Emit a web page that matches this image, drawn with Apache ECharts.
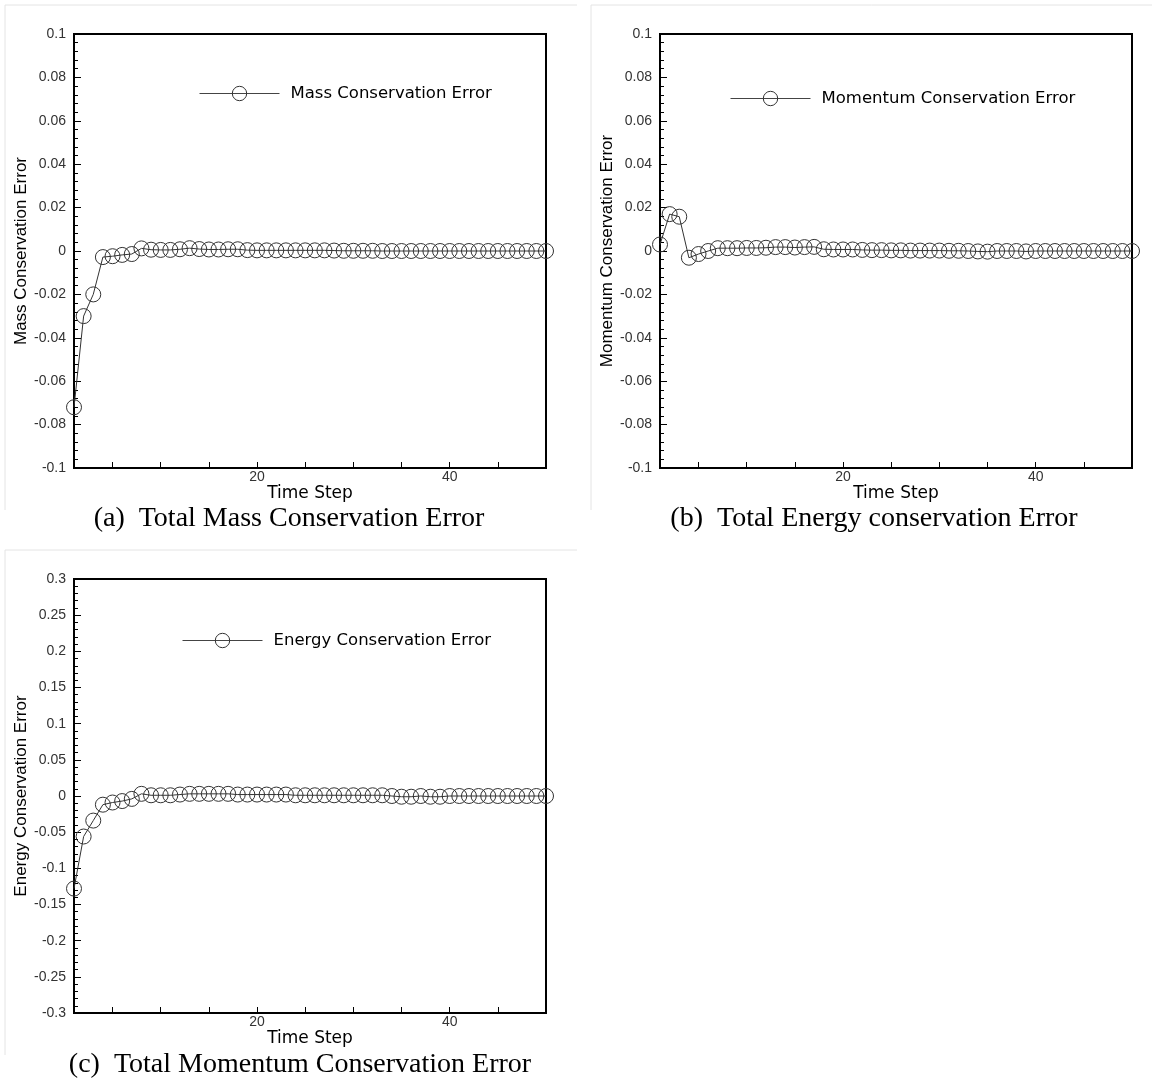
<!DOCTYPE html>
<html>
<head>
<meta charset="utf-8">
<script src="https://cdn.jsdelivr.net/npm/echarts@6/dist/echarts.min.js"></script>
<style>
html,body{margin:0;padding:0;background:#fff;}
#chart{width:1154px;height:1082px;}
</style>
</head>
<body>
<div id="chart"></div>
<script>
// ---- data ----
const timeSteps = Array.from({length: 50}, (_, i) => i + 1);
const massError = [-0.072, -0.030, -0.020, -0.0028, -0.0024, -0.0018, -0.0014, 0.0012, 0.0006, 0.0005,
  0.0005, 0.0008, 0.0013, 0.0009, 0.0007, 0.0007, 0.0008, 0.0008, 0.0004, 0.0003,
  0.0003, 0.0003, 0.0003, 0.0003, 0.0003, 0.0003, 0.0003, 0.0002, 0.0001, 0.0001,
  0.0001, 0.0001, 0, 0, 0, 0, 0, 0, 0, 0,
  0, 0, 0, 0, 0, 0, 0, 0, 0, 0];
const momentumError = [0.003, 0.017, 0.0158, -0.0031, -0.0014, 0, 0.0013, 0.0013, 0.0013, 0.0014,
  0.0014, 0.0015, 0.0018, 0.0018, 0.0016, 0.0018, 0.0019, 0.0008, 0.0007, 0.0007,
  0.0007, 0.0005, 0.0004, 0.0004, 0.0003, 0.0003, 0.0002, 0.0002, 0.0002, 0.0002,
  0.0001, 0.0001, 0, -0.0002, -0.0003, 0, 0, 0, -0.0002, 0,
  0, 0, 0, 0, 0, 0, 0, 0, 0, 0];
const energyError = [-0.128, -0.056, -0.034, -0.012, -0.009, -0.007, -0.004, 0.003, 0.001, 0.001,
  0.001, 0.002, 0.003, 0.003, 0.003, 0.003, 0.003, 0.002, 0.002, 0.002,
  0.002, 0.002, 0.002, 0.001, 0.001, 0.001, 0.001, 0.001, 0.001, 0.001,
  0.001, 0.001, 0.001, 0, -0.001, -0.001, 0, -0.001, -0.001, 0,
  0, 0, 0, 0, 0, 0, 0, 0, 0, 0];
const xTickValues = [5, 10, 15, 20, 25, 30, 35, 40, 45];
const xLabelValues = [20, 40];
const seriesNames = ['Mass Conservation Error', 'Momentum Conservation Error', 'Energy Conservation Error'];
const yAxisNames = ['Mass Conservation Error', 'Momentum Conservation Error', 'Energy Conservation Error'];
const captions = ['(a)  Total Mass Conservation Error', '(b)  Total Energy conservation Error', '(c)  Total Momentum Conservation Error'];
const yRanges = [[-0.1, 0.1, 0.02], [-0.1, 0.1, 0.02], [-0.3, 0.3, 0.05]];

// ---- layout ----
const grids = [
  {left: 74, top: 34, width: 472, height: 434},
  {left: 660, top: 34, width: 472, height: 434},
  {left: 74, top: 579, width: 472, height: 434}
];
const legendPos = [
  {left: 194, top: 80},
  {left: 725, top: 85},
  {left: 177, top: 627}
];
const captionPos = [
  {x: 289, y: 519},
  {x: 874, y: 519},
  {x: 300, y: 1065}
];

const sansFont = 'Liberation Sans';
const wideFont = 'DejaVu Sans';
const dataSets = [massError, momentumError, energyError];

const option = {
  backgroundColor: '#fff',
  animation: false,
  grid: grids.map(g => Object.assign({show: true, borderColor: '#000', borderWidth: 2, backgroundColor: 'transparent'}, g)),
  legend: seriesNames.map((n, i) => ({
    data: [n],
    left: legendPos[i].left,
    top: legendPos[i].top,
    itemWidth: 80,
    itemHeight: 18,
    lineStyle: {width: 1, color: '#444'},
    itemStyle: {color: 'rgba(255,255,255,0)', borderColor: '#333', borderWidth: 1},
    textStyle: {fontFamily: wideFont, fontSize: 16.5, color: '#000', padding: [0, 0, 0, 6]},
    selectedMode: false
  })),
  xAxis: grids.map((g, i) => ({
    type: 'value',
    gridIndex: i,
    min: 1,
    max: 50,
    name: 'Time Step',
    nameLocation: 'middle',
    nameGap: 17,
    nameTextStyle: {fontFamily: wideFont, fontSize: 17, color: '#000'},
    axisLine: {show: true, onZero: false, lineStyle: {color: '#000', width: 2}},
    axisTick: {show: true, inside: true, length: 6, customValues: xTickValues, lineStyle: {color: '#000'}},
    axisLabel: {show: true, margin: 2, customValues: xLabelValues, fontFamily: sansFont, fontSize: 14, color: '#333'},
    splitLine: {show: false}
  })),
  yAxis: grids.map((g, i) => ({
    type: 'value',
    gridIndex: i,
    min: yRanges[i][0],
    max: yRanges[i][1],
    interval: yRanges[i][2],
    name: yAxisNames[i],
    nameLocation: 'middle',
    nameGap: 42,
    nameTextStyle: {fontFamily: sansFont, fontSize: 17, color: '#000'},
    axisLine: {show: true, onZero: false, lineStyle: {color: '#000', width: 2}},
    axisTick: {show: true, inside: true, length: 7, lineStyle: {color: '#000'}},
    minorTick: {show: true, splitNumber: 5, length: 4, lineStyle: {color: '#000'}},
    axisLabel: {
      margin: 8, fontFamily: sansFont, fontSize: 14, color: '#333',
      formatter: v => {
        const r = Math.round(v * 1000) / 1000;
        return r === 0 ? '0' : String(r);
      }
    },
    splitLine: {show: false}
  })),
  series: seriesNames.map((n, i) => ({
    name: n,
    type: 'line',
    xAxisIndex: i,
    yAxisIndex: i,
    data: timeSteps.map((t, k) => [t, dataSets[i][k]]),
    symbol: 'circle',
    symbolSize: 15,
    showAllSymbol: true,
    lineStyle: {color: '#333', width: 1},
    itemStyle: {color: 'rgba(255,255,255,0)', borderColor: '#333', borderWidth: 1},
    clip: false
  })),
  graphic: [
    // faint panel frames
    {type: 'line', shape: {x1: 5, y1: 5, x2: 577, y2: 5}, style: {stroke: '#e4e4e4', lineWidth: 1}},
    {type: 'line', shape: {x1: 5, y1: 5, x2: 5, y2: 510}, style: {stroke: '#e4e4e4', lineWidth: 1}},
    {type: 'line', shape: {x1: 591, y1: 5, x2: 1152, y2: 5}, style: {stroke: '#e4e4e4', lineWidth: 1}},
    {type: 'line', shape: {x1: 591, y1: 5, x2: 591, y2: 510}, style: {stroke: '#e4e4e4', lineWidth: 1}},
    {type: 'line', shape: {x1: 5, y1: 550, x2: 577, y2: 550}, style: {stroke: '#e4e4e4', lineWidth: 1}},
    {type: 'line', shape: {x1: 5, y1: 550, x2: 5, y2: 1055}, style: {stroke: '#e4e4e4', lineWidth: 1}}
  ].concat(captions.map((c, i) => ({
    type: 'text',
    x: captionPos[i].x,
    y: captionPos[i].y,
    style: {text: c, font: '28px "Liberation Serif"', fill: '#000', textAlign: 'center', textVerticalAlign: 'middle'}
  })))
};

const chart = echarts.init(document.getElementById('chart'), null, {renderer: 'canvas'});
chart.setOption(option);
</script>
</body>
</html>
